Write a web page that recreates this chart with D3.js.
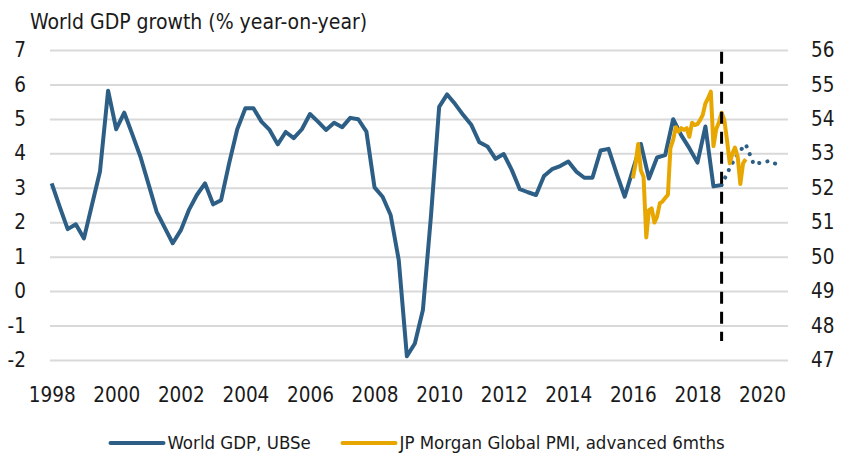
<!DOCTYPE html>
<html>
<head>
<meta charset="utf-8">
<script src="https://cdn.jsdelivr.net/npm/d3@7"></script>
<style>
  body { margin: 0; background: #fff; }
  svg text { font-family: "Liberation Sans Narrow", "DejaVu Sans Condensed", sans-serif; fill: #1a1a1a; }
</style>
</head>
<body>
<div id="chart"></div>
<script>
// quarterly world GDP growth, 1998Q1 .. 2018Q4
const gdpStart = new Date(1998, 0, 1);
const gdpActual = [
  3.13, 2.45, 1.80, 1.94, 1.53, 2.50, 3.47, 5.82,
  4.70, 5.18, 4.55, 3.90, 3.10, 2.31, 1.85, 1.39,
  1.77, 2.35, 2.79, 3.13, 2.52, 2.64, 3.71, 4.70,
  5.31, 5.31, 4.92, 4.68, 4.26, 4.62, 4.44, 4.70,
  5.14, 4.92, 4.68, 4.89, 4.76, 5.03, 4.99, 4.63,
  3.01, 2.74, 2.21, 0.90, -1.89, -1.52, -0.55, 2.20,
  5.35, 5.71, 5.43, 5.11, 4.82, 4.32, 4.20, 3.84,
  3.98, 3.52, 2.96, 2.87, 2.79, 3.34, 3.54, 3.63,
  3.76, 3.47, 3.29, 3.29, 4.08, 4.13, 3.42, 2.74,
  3.52, 4.27, 3.27, 3.88, 3.95, 4.99, 4.53, 4.15,
  3.73, 4.78, 3.04, 3.08
];
// UBS forecast, 2018Q4 .. 2020Q3
const forecastStart = new Date(2018, 9, 1);
const gdpForecast = [3.08, 3.57, 4.00, 4.26, 3.68, 3.74, 3.78, 3.66];

// JP Morgan global PMI advanced 6 months, monthly 2016-01 .. 2019-07
const pmiStart = new Date(2016, 0, 1);
const pmi = [
  52.27, 52.70, 53.27, 52.50, 52.32, 50.56, 51.35, 51.40, 50.99, 51.16,
  51.55, 51.60, 51.70, 51.80, 53.15, 53.39, 53.76, 53.63, 53.73, 53.68,
  53.73, 53.48, 53.89, 53.82, 53.85, 53.97, 54.11, 54.45, 54.60, 54.79,
  53.21, 53.70, 53.90, 54.18, 53.97, 53.39, 52.71, 53.00, 53.17, 52.90,
  52.11, 52.71, 52.83
];

const yearTicks = [1998, 2000, 2002, 2004, 2006, 2008, 2010, 2012, 2014, 2016, 2018, 2020];
const leftTicks = [-2, -1, 0, 1, 2, 3, 4, 5, 6, 7];
const rightTicks = [47, 48, 49, 50, 51, 52, 53, 54, 55, 56];
const forecastMarker = new Date(2018, 9, 1);
const markerSpan = [-1.45, 6.95];

const legendItems = ["World GDP, UBSe", "JP Morgan Global PMI, advanced 6mths"];
const blue = "#2d5f86";
const gold = "#e8a700";

const svgWidth = 844;
const svgHeight = 459;
const plotLeft = 50, plotRight = 788, plotTop = 50, plotBottom = 360;

const svg = d3.select("#chart")
  .append("svg")
  .attr("width", svgWidth)
  .attr("height", svgHeight);

const x = d3.scaleTime()
  .domain([new Date(1998, 0, 1), new Date(2020, 0, 1)])
  .range([51.7, 762]);
const yLeft = d3.scaleLinear().domain([-2, 7]).range([plotBottom, plotTop]);
const yRight = d3.scaleLinear().domain([47, 56]).range([plotBottom, plotTop]);

// build dated series
const gdpData = gdpActual.map((v, i) => ({ date: d3.timeMonth.offset(gdpStart, i * 3), value: v }));
const fcData = gdpForecast.map((v, i) => ({ date: d3.timeMonth.offset(forecastStart, i * 3), value: v }));
const pmiData = pmi.map((v, i) => ({ date: d3.timeMonth.offset(pmiStart, i), value: v }));

// left axis with gridlines
const leftAxis = svg.append("g")
  .attr("transform", `translate(${plotLeft},0)`)
  .call(d3.axisLeft(yLeft).tickValues(leftTicks).tickFormat(d => String(d))
    .tickSizeInner(-(plotRight - plotLeft)).tickSizeOuter(0).tickPadding(24));
leftAxis.select(".domain").remove();
leftAxis.selectAll("line").attr("stroke", "#d9d9d9").attr("stroke-width", 2);
leftAxis.selectAll("text").attr("font-size", 20.5);

// right axis
const rightAxis = svg.append("g")
  .attr("transform", `translate(${plotRight},0)`)
  .call(d3.axisRight(yRight).tickValues(rightTicks).tickSize(0).tickPadding(23));
rightAxis.select(".domain").remove();
rightAxis.selectAll("text").attr("font-size", 20.5);

// bottom axis
const bottomAxis = svg.append("g")
  .attr("transform", `translate(0,${plotBottom})`)
  .call(d3.axisBottom(x).tickValues(yearTicks.map(y => new Date(y, 0, 1)))
    .tickFormat(d3.timeFormat("%Y")).tickSize(0).tickPadding(27));
bottomAxis.select(".domain").remove();
bottomAxis.selectAll("text").attr("font-size", 20.5);

svg.selectAll(".tick text").attr("fill", "#1a1a1a");
svg.selectAll(".tick").attr("font-family", null);

// title
svg.append("text")
  .attr("x", 30)
  .attr("y", 29)
  .attr("font-size", 21)
  .text("World GDP growth (% year-on-year)");

const gdpLine = d3.line().x(d => x(d.date)).y(d => yLeft(d.value));
const pmiLine = d3.line().x(d => x(d.date)).y(d => yRight(d.value));

svg.append("path")
  .datum(gdpData)
  .attr("d", gdpLine)
  .attr("fill", "none")
  .attr("stroke", blue)
  .attr("stroke-width", 4)
  .attr("stroke-linejoin", "round");

svg.append("path")
  .datum(fcData)
  .attr("d", gdpLine)
  .attr("fill", "none")
  .attr("stroke", blue)
  .attr("stroke-width", 4)
  .attr("stroke-linecap", "round")
  .attr("stroke-dasharray", "0.1 8.2");

svg.append("path")
  .datum(pmiData)
  .attr("d", pmiLine)
  .attr("fill", "none")
  .attr("stroke", gold)
  .attr("stroke-width", 4)
  .attr("stroke-linejoin", "round");

// forecast marker
svg.append("line")
  .attr("x1", x(forecastMarker)).attr("x2", x(forecastMarker))
  .attr("y1", yLeft(markerSpan[1])).attr("y2", yLeft(markerSpan[0]))
  .attr("stroke", "#000")
  .attr("stroke-width", 3)
  .attr("stroke-dasharray", "12 8");

// legend
const legend = svg.append("g").attr("transform", "translate(0,443)");
const legendX = [110.5, 342.5];
legendItems.forEach((name, i) => {
  legend.append("line")
    .attr("x1", legendX[i]).attr("x2", legendX[i] + 53)
    .attr("stroke", i === 0 ? blue : gold)
    .attr("stroke-width", 4)
    .attr("stroke-linecap", "round");
  legend.append("text")
    .attr("x", legendX[i] + 57)
    .attr("y", 0)
    .attr("dy", "0.35em")
    .attr("font-size", 18.5)
    .text(name);
});
</script>
</body>
</html>
